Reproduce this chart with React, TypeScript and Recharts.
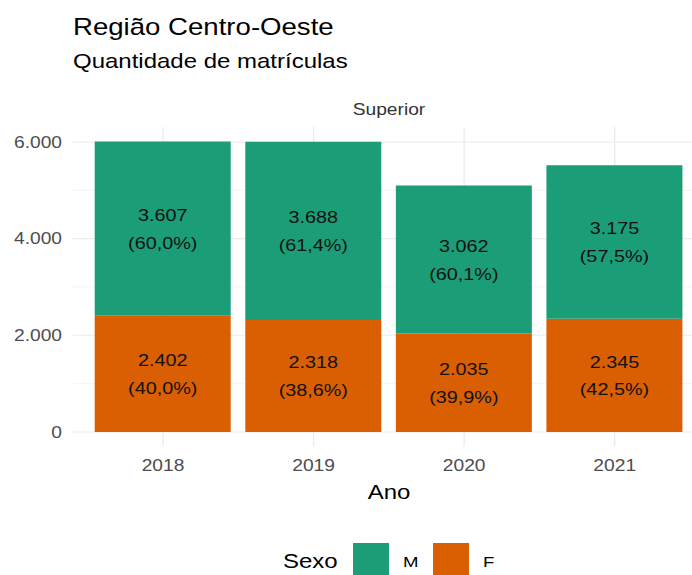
import { BarChart, Bar, XAxis, YAxis, CartesianGrid, LabelList } from 'recharts'

const years = ['2018', '2019', '2020', '2021']
const masculino = [3607, 3688, 3062, 3175]
const feminino = [2402, 2318, 2035, 2345]
const yTicks = [0, 2000, 4000, 6000]
const yMinor = [1000, 3000, 5000]

const GREEN = '#1B9E77'
const ORANGE = '#D95F02'
const FONT = '"Liberation Sans", Arial, Helvetica, sans-serif'
const SX = 1.2 // picture is stretched sideways

const data = years.map((ano, i) => ({ ano, M: masculino[i], F: feminino[i] }))

function thousands(v: number) {
  return String(v).replace(/\B(?=(\d{3})+(?!\d))/g, '.')
}

function pct(v: number, i: number) {
  const total = masculino[i] + feminino[i]
  return `(${((v / total) * 100).toFixed(1).replace('.', ',')}%)`
}

function SText({ x, y, size, anchor = 'start', fill = '#000', children }: any) {
  return (
    <text
      transform={`translate(${x} ${y}) scale(${SX} 1)`}
      fontSize={size}
      textAnchor={anchor}
      fill={fill}
      fontFamily={FONT}
    >
      {children}
    </text>
  )
}

function segLabel(values: number[]) {
  return (props: any) => {
    const { x, y, width, height, index } = props
    const cx = Number(x) + Number(width) / 2
    const cy = Number(y) + Number(height) / 2
    const v = values[index]
    return (
      <g>
        <SText x={cx} y={cy - 13.5 + 5.9} size={16.5} anchor="middle" fill="#111">{thousands(v)}</SText>
        <SText x={cx} y={cy + 14 + 5.9} size={16.5} anchor="middle" fill="#111">{pct(v, index)}</SText>
      </g>
    )
  }
}

function YTick({ y, payload }: any) {
  return <SText x={62} y={y + 5.7} size={16} anchor="end" fill="#4d4d4d">{thousands(payload.value)}</SText>
}

function XTick({ x, y, payload }: any) {
  return <SText x={x} y={y + 24} size={16} anchor="middle" fill="#4d4d4d">{payload.value}</SText>
}

export default function App() {
  return (
    <div style={{ position: 'absolute', left: 0, top: 0, width: 692, height: 575, overflow: 'hidden', background: '#fff' }}>
      <BarChart width={710} height={575} data={data} margin={{ top: 127, right: 5, bottom: 98.5, left: 0 }}>
        <CartesianGrid horizontal={false} vertical syncWithTicks stroke="#ebebeb" strokeWidth={1.3} />
        <CartesianGrid horizontalValues={yMinor} vertical={false} stroke="#ededed" strokeWidth={0.6} />
        <CartesianGrid horizontalValues={yTicks} vertical={false} stroke="#ebebeb" strokeWidth={1.1} />
        <XAxis
          dataKey="ano"
          height={30}
          padding={{ left: 15, right: 15 }}
          axisLine={false}
          tickLine={false}
          tickSize={0}
          tickMargin={0}
          tick={<XTick />}
        />
        <YAxis
          type="number"
          width={72.7}
          domain={[-300.45, 6309.45]}
          allowDataOverflow
          ticks={yTicks}
          axisLine={false}
          tickLine={false}
          tickSize={0}
          tickMargin={0}
          tick={<YTick />}
        />
        <Bar dataKey="F" stackId="a" fill={ORANGE} barSize={136} isAnimationActive={false}>
          <LabelList dataKey="F" content={segLabel(feminino)} />
        </Bar>
        <Bar dataKey="M" stackId="a" fill={GREEN} barSize={136} isAnimationActive={false}>
          <LabelList dataKey="M" content={segLabel(masculino)} />
        </Bar>
      </BarChart>
      <svg width={692} height={575} style={{ position: 'absolute', left: 0, top: 0, pointerEvents: 'none' }}>
        <SText x={73} y={35} size={23}>Região Centro-Oeste</SText>
        <SText x={73} y={68} size={20}>Quantidade de matrículas</SText>
        <SText x={389} y={114.5} size={16} anchor="middle" fill="#333">Superior</SText>
        <SText x={389} y={499} size={20} anchor="middle">Ano</SText>
        <SText x={283} y={568} size={20}>Sexo</SText>
        <rect x={353} y={543} width={36} height={37} fill={GREEN} />
        <SText x={403} y={567} size={15.5}>M</SText>
        <rect x={433} y={543} width={36} height={37} fill={ORANGE} />
        <SText x={483} y={567} size={15.5}>F</SText>
      </svg>
    </div>
  )
}
